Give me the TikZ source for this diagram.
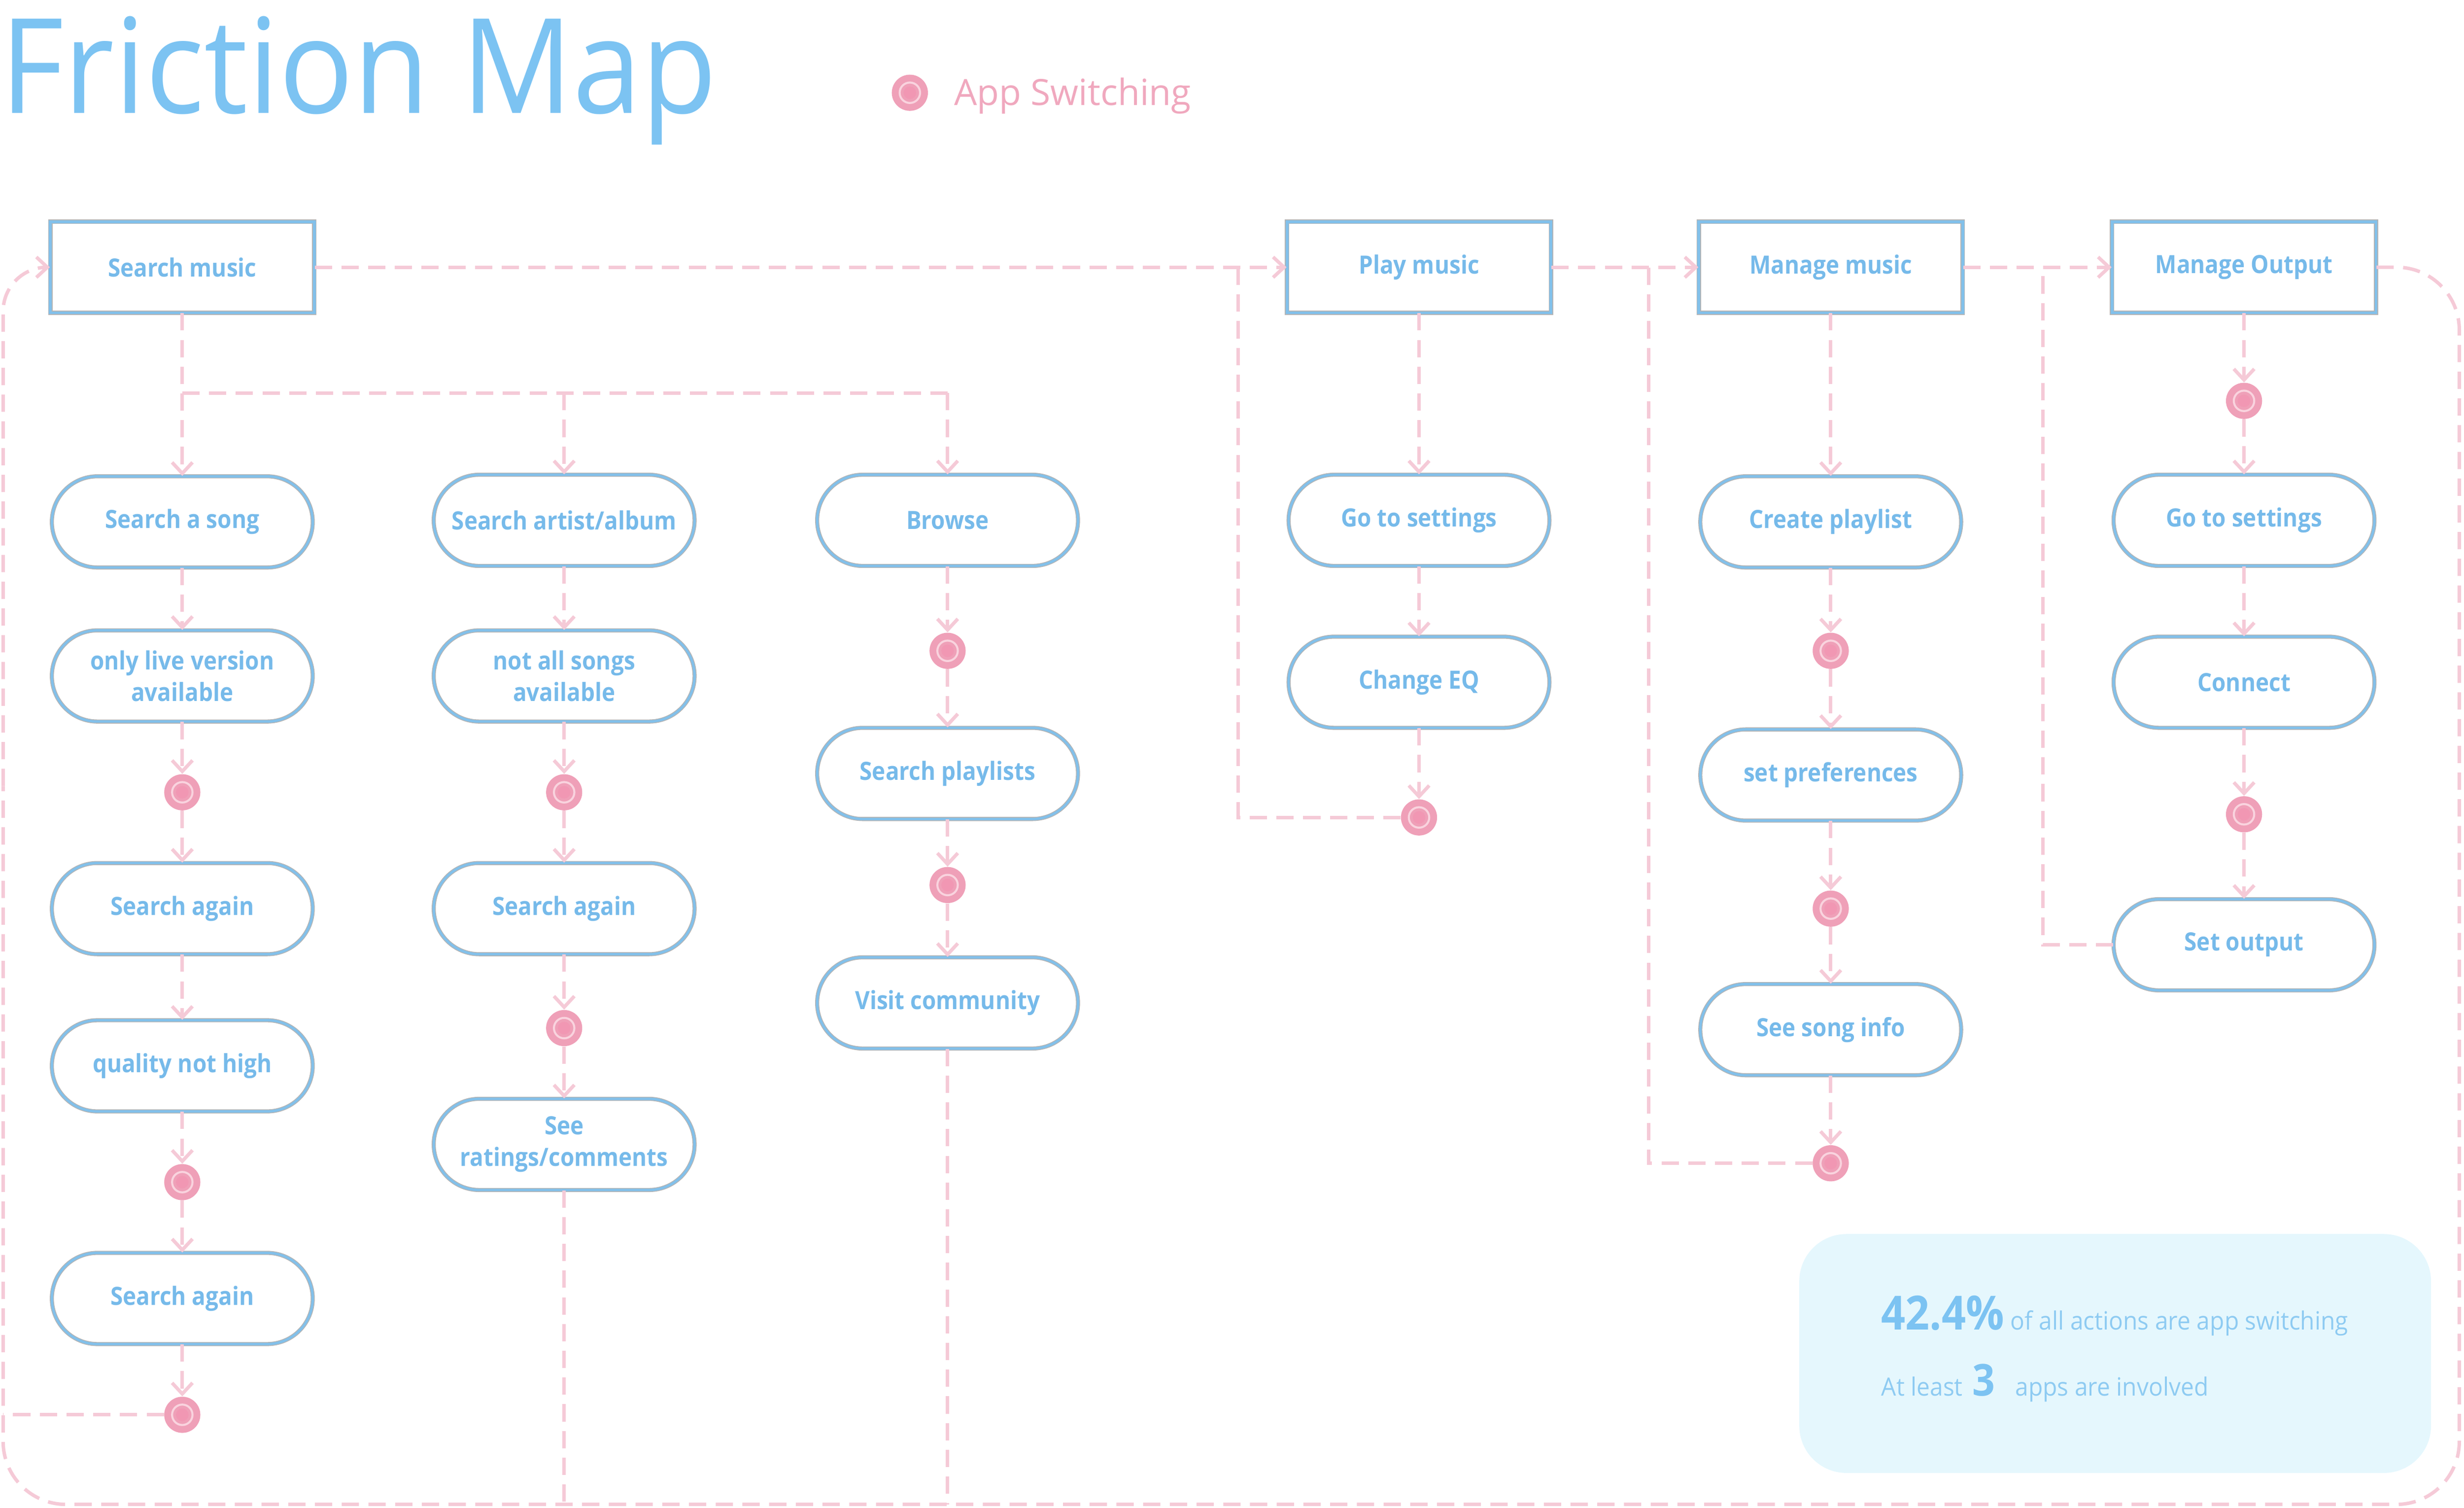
\documentclass[tikz,border=0pt]{standalone}
\usepackage{fontspec}
\setmainfont{Open Sans}
\newfontfamily\titlefont[FakeStretch=0.935]{Open Sans}
\newfontfamily\statfont[FakeStretch=0.94]{Open Sans}
\newfontfamily\statbig[FakeStretch=0.9]{Open Sans}
\newfontfamily\boxfont[FakeStretch=0.9]{Open Sans}
\usetikzlibrary{arrows.meta}
\definecolor{titleblue}{HTML}{7CC3F2}
\definecolor{nodeblue}{HTML}{82C0EA}
\definecolor{nodegray}{HTML}{B4B4B4}
\definecolor{textblue}{HTML}{76BAEA}
\definecolor{linkpink}{HTML}{F5CAD7}
\definecolor{pinpink}{HTML}{EFA0B8}
\definecolor{pinring}{HTML}{F9D3DE}
\definecolor{pincore}{HTML}{F197B3}
\definecolor{statfill}{HTML}{E5F7FD}
\definecolor{stattext}{HTML}{8ECBF2}
\definecolor{legendpink}{HTML}{F0A8BE}
\begin{document}
\begin{tikzpicture}[x=1pt,y=-1pt,
  stepbox/.style={draw=nodegray, double=nodeblue, double distance=1.6pt, line width=0.5pt,
    minimum width=166pt, minimum height=58pt, rounded corners=29pt, align=center,
    text=textblue, font=\boxfont\bfseries\fontsize{16}{20}\selectfont, inner sep=0pt},
  topbox/.style={draw=nodegray, double=nodeblue, double distance=1.8pt, line width=0.5pt,
    minimum width=168pt, minimum height=58pt, align=center,
    text=textblue, font=\boxfont\bfseries\fontsize{16}{20}\selectfont, inner sep=0pt},
  link/.style={draw=linkpink, line width=2.2pt, dash pattern=on 11pt off 6pt},
  arr/.style={link, -{Straight Barb[length=7pt,width=13pt]}},
  pin/.style={circle, fill=pinpink, minimum size=23pt, inner sep=0pt,
    path picture={\draw[pinring,line width=1.3pt] (path picture bounding box.center) circle (6.5pt);
      \fill[pincore] (path picture bounding box.center) circle (4pt);}},
]
\useasboundingbox (0,0) rectangle (1568,959);

% title and legend
\node[anchor=base west, text=titleblue, font=\titlefont\fontsize{84}{84}\selectfont, inner sep=0pt] (title) at (0,72) {Friction Map};
\node[pin] (lpin) at (579,59) {};
\node[anchor=base west, text=legendpink, font=\fontsize{23}{23}\selectfont, inner sep=0pt] (ltext) at (607,67) {App Switching};

% stats box
\node[fill=statfill, rounded corners=30pt, minimum width=402pt, minimum height=152pt, inner sep=0pt] (stats) at (1346,861) {};
\node[anchor=base west, inner sep=0pt, text=titleblue] (st1) at (1197,846)
  {\statbig\bfseries\fontsize{30}{30}\selectfont 42.4\%\hspace{4pt}{\statfont\mdseries\color{stattext}\fontsize{16}{16}\selectfont of all actions are app switching}};
\node[anchor=base west, inner sep=0pt, text=stattext] (st2) at (1197,888)
  {\statfont\fontsize{16}{16}\selectfont At least\hspace{6pt}{\color{titleblue}\statbig\bfseries\fontsize{28}{28}\selectfont 3}\hspace{13pt}apps are involved};

% top boxes
\node[topbox] (SM) at (116,170) {Search music};
\node[topbox] (PM) at (903,170) {Play music};
\node[topbox] (MM) at (1165,170) {Manage music};
\node[topbox] (MO) at (1428,170) {Manage Output};

% column 1
\node[stepbox] (s1) at (116,332) {Search a song};
\node[stepbox] (s2) at (116,430) {only live version\\available};
\node[pin] (p1) at (116,504) {};
\node[stepbox] (s3) at (116,578) {Search again};
\node[stepbox] (s4) at (116,678) {quality not high};
\node[pin] (p2) at (116,752) {};
\node[stepbox] (s5) at (116,826) {Search again};
\node[pin] (p3) at (116,900) {};

% column 2
\node[stepbox] (a1) at (359,331) {Search artist/album};
\node[stepbox] (a2) at (359,430) {not all songs\\available};
\node[pin] (q1) at (359,504) {};
\node[stepbox] (a3) at (359,578) {Search again};
\node[pin] (q2) at (359,654) {};
\node[stepbox] (a4) at (359,728) {See\\ratings/comments};

% column 3
\node[stepbox] (b1) at (603,331) {Browse};
\node[pin] (r1) at (603,414) {};
\node[stepbox] (b2) at (603,492) {Search playlists};
\node[pin] (r2) at (603,563) {};
\node[stepbox] (b3) at (603,638) {Visit community};

% column 4
\node[stepbox] (g1) at (903,331) {Go to settings};
\node[stepbox] (g2) at (903,434) {Change EQ};
\node[pin] (t1) at (903,520) {};

% column 5
\node[stepbox] (m1) at (1165,332) {Create playlist};
\node[pin] (u1) at (1165,414) {};
\node[stepbox] (m2) at (1165,493) {set preferences};
\node[pin] (u2) at (1165,578) {};
\node[stepbox] (m3) at (1165,655) {See song info};
\node[pin] (u3) at (1165,740) {};

% column 6
\node[pin] (v1) at (1428,255) {};
\node[stepbox] (o1) at (1428,331) {Go to settings};
\node[stepbox] (o2) at (1428,434) {Connect};
\node[pin] (v2) at (1428,518) {};
\node[stepbox] (o3) at (1428,601) {Set output};

% helper coordinates
\coordinate (j0) at (116,250);
\coordinate (j1) at (359,250);
\coordinate (j2) at (603,250);
\coordinate (L3) at (2,900);
\coordinate (B2) at (359,957);
\coordinate (B3) at (603,957);
\coordinate (c4a) at (788,520);
\coordinate (c4b) at (788,170);
\coordinate (c5a) at (1049,740);
\coordinate (c5b) at (1049,170);
\coordinate (c6a) at (1300,601);
\coordinate (c6b) at (1300,170);
\coordinate (LTR) at (1565,170);
\coordinate (LBR) at (1565,957);
\coordinate (LBL) at (2,957);
\coordinate (LML) at (2,500);
\coordinate (LTL) at (2,170);

% main flow
\draw[arr] (SM) -- (PM);
\draw[arr] (PM) -- (MM);
\draw[arr] (MM) -- (MO);
\draw[link, rounded corners=40pt] (MO.east) -- (LTR) -- (LBR) -- (LBL) -- (LML);
\draw[arr, rounded corners=28pt] (LML) -- (LTL) -- (SM.west);

% branches
\draw[arr] (SM) -- (s1);
\draw[link] (j0) -- (j2);
\draw[arr] (j1) -- (a1);
\draw[arr] (j2) -- (b1);

% column 1 links
\draw[arr] (s1) -- (s2);
\draw[arr] (s2) -- (p1);
\draw[arr] (p1) -- (s3);
\draw[arr] (s3) -- (s4);
\draw[arr] (s4) -- (p2);
\draw[arr] (p2) -- (s5);
\draw[arr] (s5) -- (p3);
\draw[link] (p3) -- (L3);

% column 2 links
\draw[arr] (a1) -- (a2);
\draw[arr] (a2) -- (q1);
\draw[arr] (q1) -- (a3);
\draw[arr] (a3) -- (q2);
\draw[arr] (q2) -- (a4);
\draw[link] (a4) -- (B2);

% column 3 links
\draw[arr] (b1) -- (r1);
\draw[arr] (r1) -- (b2);
\draw[arr] (b2) -- (r2);
\draw[arr] (r2) -- (b3);
\draw[link] (b3) -- (B3);

% column 4 links
\draw[arr] (PM) -- (g1);
\draw[arr] (g1) -- (g2);
\draw[arr] (g2) -- (t1);
\draw[link] (t1) -- (c4a) -- (c4b);

% column 5 links
\draw[arr] (MM) -- (m1);
\draw[arr] (m1) -- (u1);
\draw[arr] (u1) -- (m2);
\draw[arr] (m2) -- (u2);
\draw[arr] (u2) -- (m3);
\draw[arr] (m3) -- (u3);
\draw[link] (u3) -- (c5a) -- (c5b);

% column 6 links
\draw[arr] (MO) -- (v1);
\draw[arr] (v1) -- (o1);
\draw[arr] (o1) -- (o2);
\draw[arr] (o2) -- (v2);
\draw[arr] (v2) -- (o3);
\draw[link] (o3) -- (c6a) -- (c6b);
\end{tikzpicture}
\end{document}
